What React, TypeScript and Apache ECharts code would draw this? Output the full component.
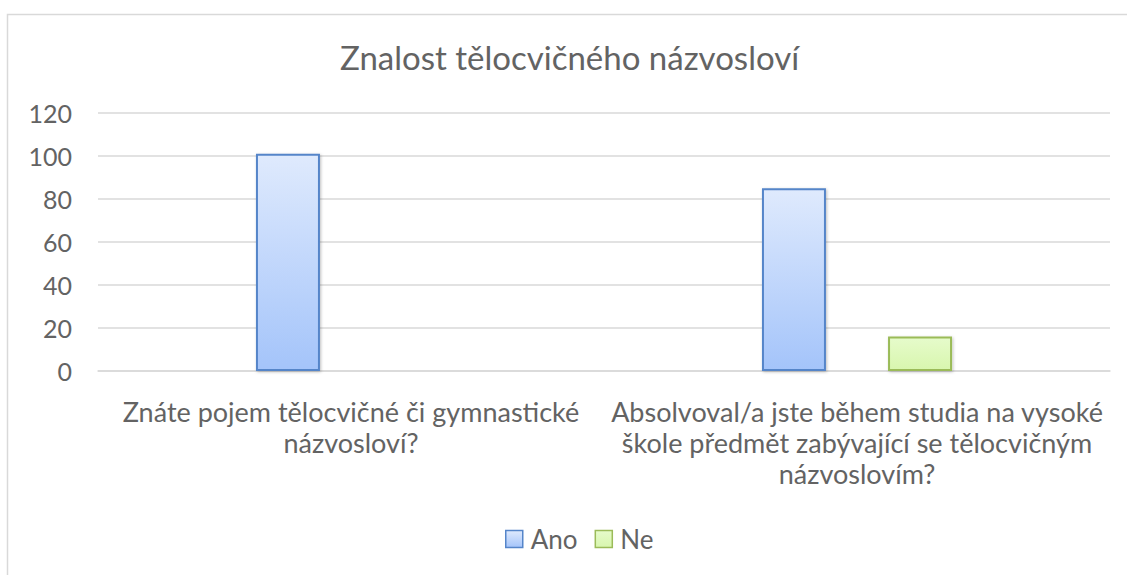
import React, { useEffect, useRef } from "react";
import * as echarts from "echarts";

const categories = [
  "Znáte pojem tělocvičné či gymnastické\nnázvosloví?",
  "Absolvoval/a jste během studia na vysoké\nškole předmět zabývající se tělocvičným\nnázvoslovím?",
];
const anoValues = [101, 85];
const neValues = [0, 16];
const yTicks = { min: 0, max: 120, interval: 20 };
const titleText = "Znalost tělocvičného názvosloví";

const FONT = "Lato, 'Open Sans', sans-serif";
const TEXT = "#636363";

export default function App() {
  const ref = useRef<HTMLDivElement>(null);
  useEffect(() => {
    document.body.style.margin = "0";
    const chart = echarts.init(ref.current!, null, { renderer: "svg" });
    chart.setOption({
      animation: false,
      backgroundColor: "#ffffff",
      title: {
        text: titleText,
        left: 335,
        top: 35,
        textStyle: { fontFamily: FONT, fontSize: 33, fontWeight: "normal", color: TEXT },
      },
      graphic: [
        {
          type: "rect",
          shape: { x: 7.5, y: 14.5, width: 1200, height: 700 },
          style: { fill: "none", stroke: "#d9d9d9", lineWidth: 1.5 },
          silent: true,
          z: -1,
        },
      ],
      legend: {
        bottom: 18,
        left: 500,
        icon: "rect",
        itemWidth: 17,
        itemHeight: 17,
        itemGap: 17,
        itemStyle: { borderWidth: 1.5 },
        textStyle: { fontFamily: FONT, fontSize: 26, color: TEXT, padding: [0, 0, 0, 3] },
        data: ["Ano", "Ne"],
      },
      grid: { left: 98, right: 17, top: 113, bottom: 204, containLabel: false },
      xAxis: {
        type: "category",
        data: categories,
        axisLine: { lineStyle: { color: "#d9d9d9", width: 1.5 } },
        axisTick: { show: false },
        axisLabel: {
          interval: 0,
          margin: 25,
          fontFamily: FONT,
          fontSize: 27,
          lineHeight: 31,
          color: TEXT,
          align: "center",
        },
      },
      yAxis: {
        type: "value",
        min: yTicks.min,
        max: yTicks.max,
        interval: yTicks.interval,
        axisLine: { show: false },
        axisTick: { show: false },
        splitLine: { lineStyle: { color: "#d9d9d9", width: 1.5 } },
        axisLabel: { margin: 26, fontFamily: FONT, fontSize: 25, color: TEXT },
      },
      series: [
        {
          name: "Ano",
          type: "bar",
          data: anoValues,
          barWidth: 64,
          barGap: "97%",
          itemStyle: {
            color: new echarts.graphic.LinearGradient(0, 0, 0, 1, [
              { offset: 0, color: "#dfeafd" },
              { offset: 1, color: "#a4c4fa" },
            ]),
            borderColor: "#5585c9",
            borderWidth: 2,
            shadowColor: "rgba(0,0,0,0.25)",
            shadowBlur: 3,
            shadowOffsetX: 1,
            shadowOffsetY: 1,
          },
        },
        {
          name: "Ne",
          type: "bar",
          data: neValues.map((v) => (v === 0 ? "-" : v)),
          barWidth: 64,
          itemStyle: {
            color: new echarts.graphic.LinearGradient(0, 0, 0, 1, [
              { offset: 0, color: "#e6fbcb" },
              { offset: 1, color: "#d8f6ae" },
            ]),
            borderColor: "#9bbb59",
            borderWidth: 2,
            shadowColor: "rgba(0,0,0,0.25)",
            shadowBlur: 3,
            shadowOffsetX: 1,
            shadowOffsetY: 1,
          },
        },
      ],
    });
    return () => chart.dispose();
  }, []);
  return <div ref={ref} style={{ width: 1127, height: 575 }} />;
}
